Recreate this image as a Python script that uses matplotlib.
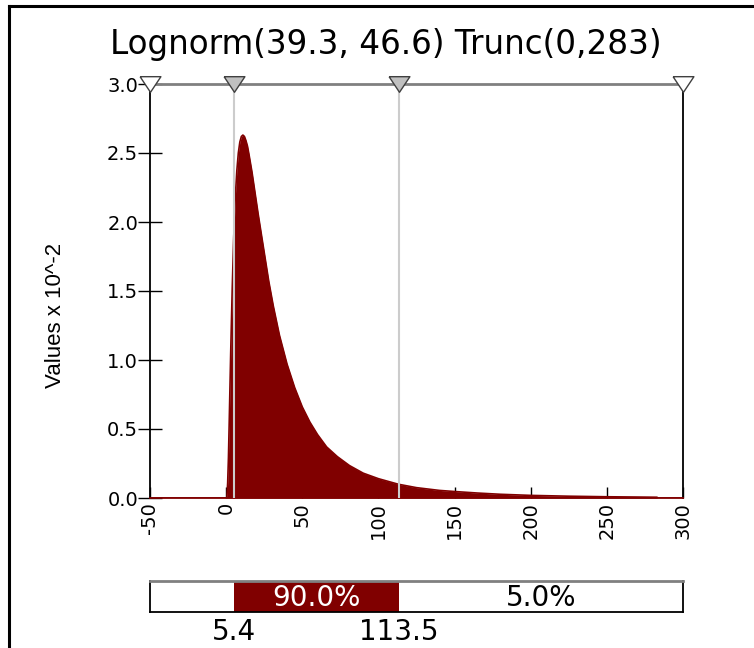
import numpy as np
import matplotlib.pyplot as plt
from matplotlib.lines import Line2D

plt.rcParams['font.family'] = ['DejaVu Sans']

# ---- values ----
x_vals = [-50, 0, 0.5, 1, 1.5, 2, 2.5, 3, 4, 5, 6, 7, 8, 9, 10, 11, 12, 13, 14, 15,
          17, 19, 21, 23, 25, 28, 31, 35, 40, 45, 50, 55, 60, 66, 73, 81, 90, 100,
          113, 125, 140, 150, 165, 180, 200, 225, 250, 270, 283, 283, 300]
dens = [0, 0, 0.005, 0.11, 0.29, 0.54, 0.80, 1.06, 1.52, 1.90, 2.18, 2.37, 2.50, 2.58,
        2.62, 2.63, 2.62, 2.59, 2.55, 2.49, 2.36, 2.21, 2.06, 1.92, 1.78, 1.57, 1.39,
        1.18, 0.97, 0.80, 0.66, 0.55, 0.46, 0.37, 0.30, 0.235, 0.18, 0.14, 0.10, 0.075,
        0.055, 0.047, 0.036, 0.027, 0.019, 0.013, 0.009, 0.007, 0.0055, 0, 0]

lo, hi = 5.4, 113.5
pct_labels = ['5.0%', '90.0%', '5.0%']
xmin, xmax = -50, 300
ymax = 3.0
title = 'Lognorm(39.3, 46.6) Trunc(0,283)'

red = '#800000'

fig = plt.figure(figsize=(7.54, 6.48), dpi=100)
W, H = 754, 648

# ---- main density plot ----
ax = fig.add_axes([150 / W, 150 / H, 533 / W, 414 / H])
ax.fill_between(x_vals, dens, color=red, lw=0, zorder=2)
ax.plot(x_vals, dens, color=red, lw=1.2, zorder=2)
ax.vlines([lo, hi], 0, ymax, color='#cccccc', lw=1.5, zorder=3)

ax.set_xlim(xmin, xmax)
ax.set_ylim(0, ymax)
ax.set_xticks(np.arange(-50, 301, 50))
ax.set_xticklabels([str(v) for v in range(-50, 301, 50)], rotation=90)
ax.set_yticks(np.arange(0, 3.01, 0.5))
ax.set_yticklabels(['%.1f' % v for v in np.arange(0, 3.01, 0.5)])
ax.tick_params(axis='x', direction='in', length=8, width=1, pad=3, labelsize=14)
ax.tick_params(axis='y', direction='inout', length=17, width=1, pad=0, labelsize=14)

for s in ['left', 'right']:
    ax.spines[s].set_color('black')
    ax.spines[s].set_linewidth(1.3)
ax.spines['top'].set_color('#808080')
ax.spines['top'].set_linewidth(2)
ax.spines['bottom'].set_color(red)
ax.spines['bottom'].set_linewidth(1.3)

ax.set_ylabel('Values x 10^-2', fontsize=16, family='Liberation Sans')
ax.yaxis.set_label_coords(-0.157, 0.44)

# triangle markers along the top
tri = [(-1, 0.75), (1, 0.75), (0, -0.75), (-1, 0.75)]
for xv, fc in zip([xmin, lo, hi, xmax], ['white', '#c0c0c0', '#c0c0c0', 'white']):
    ax.plot([xv], [ymax], marker=tri, ms=15, mfc=fc, mec='#404040', mew=1,
            clip_on=False, zorder=5)

fig.text(386 / W, (H - 54) / H, title, fontsize=23.5, ha='center', va='baseline')

# ---- percentile bar ----
ax2 = fig.add_axes([150 / W, (H - 612) / H, 533 / W, 31 / H])
ax2.set_xlim(xmin, xmax)
ax2.set_ylim(0, 1)
ax2.axvspan(lo, hi, color=red, lw=0)
ax2.set_xticks([])
ax2.set_yticks([])
for s in ['left', 'right', 'bottom']:
    ax2.spines[s].set_color('black')
    ax2.spines[s].set_linewidth(1.3)
ax2.spines['top'].set_color('#808080')
ax2.spines['top'].set_linewidth(2)
ax2.text((lo + hi) / 2, 0.45, pct_labels[1], color='white', fontsize=20,
         ha='center', va='center')
ax2.text((hi + xmax) / 2, 0.45, pct_labels[2], color='black', fontsize=20,
         ha='center', va='center')
ax2.text(lo, -0.2, '%.1f' % lo, fontsize=20, ha='center', va='top')
ax2.text(hi, -0.2, '%.1f' % hi, fontsize=20, ha='center', va='top')

# frame lines (left and top edges)
fig.add_artist(Line2D([9 / W, 9 / W], [0, (H - 6) / H], color='black', lw=2.2))
fig.add_artist(Line2D([9 / W, 1], [(H - 6) / H, (H - 6) / H], color='black', lw=2.2))

fig.savefig('out.png', dpi=100)
